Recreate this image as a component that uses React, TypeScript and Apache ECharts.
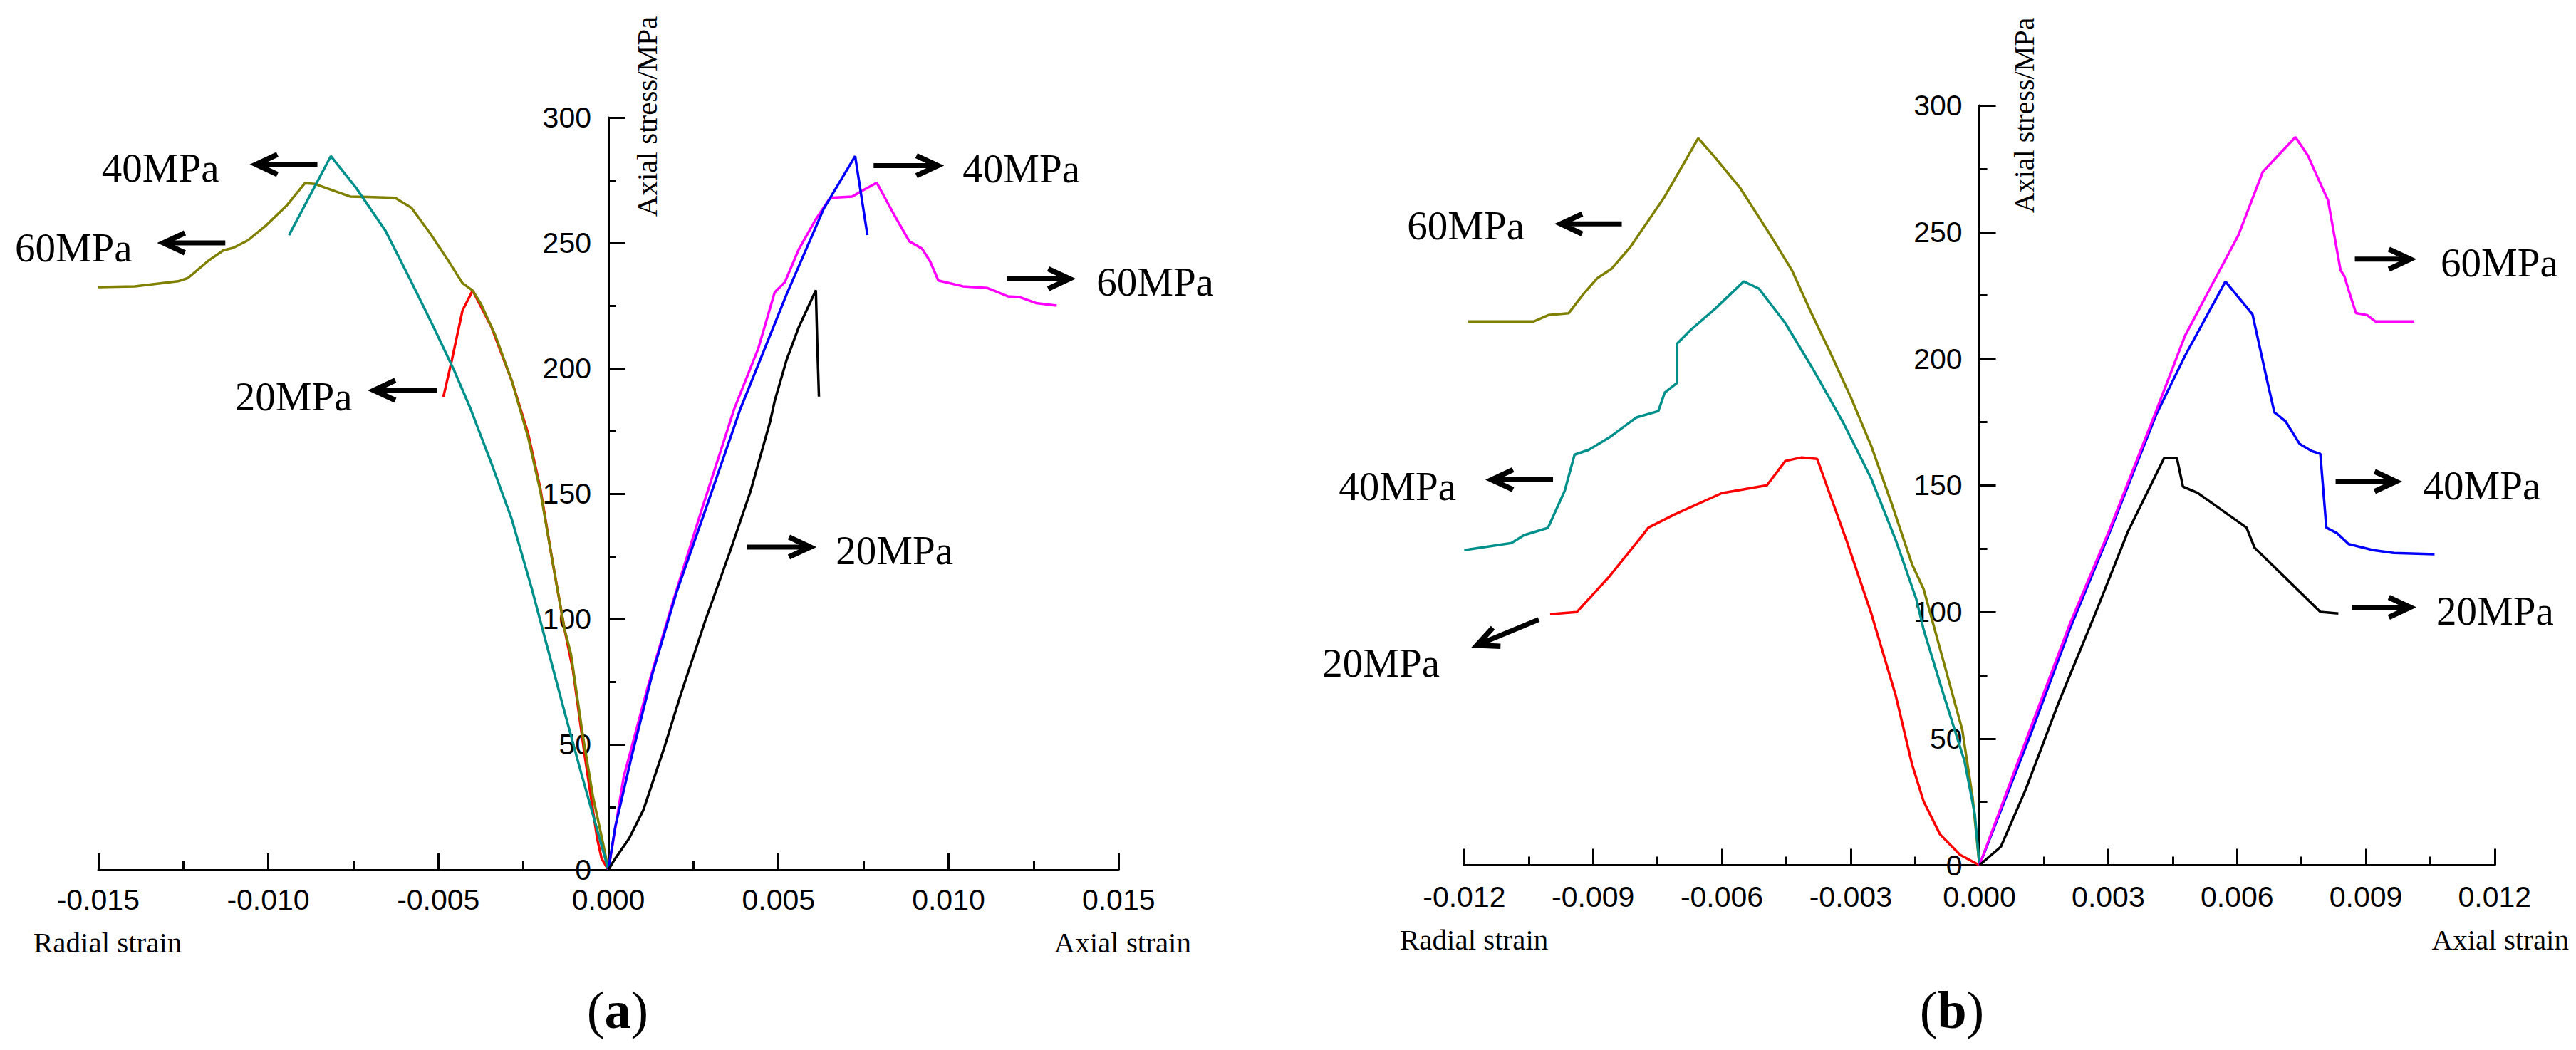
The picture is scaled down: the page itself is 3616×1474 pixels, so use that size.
import React, { useEffect, useRef } from 'react';
import * as echarts from 'echarts';

type P = [number, number];

// ---------- Panel (a) data: [strain, axial stress MPa] ----------
const radialA60: P[] = [
  [-0.015, 232.4], [-0.01392, 232.7], [-0.01265, 234.7], [-0.01236, 236], [-0.01175, 243],
  [-0.01132, 247], [-0.01103, 248], [-0.0106, 251], [-0.01006, 257], [-0.00945, 265],
  [-0.00892, 273.8], [-0.00862, 273.5], [-0.00832, 272], [-0.00801, 270.5], [-0.00759, 268.5],
  [-0.00627, 268], [-0.00579, 264], [-0.00525, 254], [-0.00471, 243], [-0.00429, 234],
  [-0.00399, 231], [-0.00374, 225.5], [-0.00332, 213], [-0.00284, 195], [-0.00236, 172.5],
  [-0.002, 151], [-0.00165, 123.5], [-0.00129, 96], [-0.0011, 86], [-0.00075, 53.4],
  [-0.00045, 29], [-0.00014, 9.4], [0, 0],
];
const radialA40: P[] = [
  [-0.00939, 253.1], [-0.00816, 284.6], [-0.00742, 272], [-0.00656, 255], [-0.00585, 236],
  [-0.00514, 216.5], [-0.00453, 199], [-0.00405, 183.8], [-0.00369, 171], [-0.00345, 162.5],
  [-0.00284, 139.8], [-0.00225, 112], [-0.00177, 87.5], [-0.00129, 63], [-0.0008, 38.6],
  [-0.00033, 16], [0, 0],
];
const radialA20: P[] = [
  [-0.00485, 188.6], [-0.0046, 203.4], [-0.00429, 223], [-0.00399, 231], [-0.00344, 216.5],
  [-0.00284, 195], [-0.00236, 174], [-0.002, 152], [-0.00165, 123.5], [-0.00129, 96],
  [-0.00104, 79.5], [-0.00069, 45], [-0.00033, 12.5], [-0.0002, 4.5], [0, 0],
];
const axialA40: P[] = [
  [0, 0], [0.0002, 17], [0.00068, 45], [0.00129, 78], [0.002, 110.5], [0.00284, 143],
  [0.00388, 183.8], [0.00417, 193.5], [0.00524, 229.5], [0.00633, 263.6], [0.007255, 284.6],
  [0.007615, 253.1],
];
const axialA60: P[] = [
  [0, 0], [0.00045, 37], [0.00116, 73], [0.0019, 107], [0.00273, 143], [0.0037, 183.8],
  [0.00441, 208], [0.00489, 230.3], [0.00519, 234.4], [0.0056, 247.5], [0.00608, 259],
  [0.00652, 268], [0.00717, 268.5], [0.00753, 271.3], [0.00789, 274], [0.00837, 262],
  [0.00885, 250.6], [0.00922, 247.7], [0.00946, 242.6], [0.0097, 235], [0.01042, 232.7],
  [0.01114, 232], [0.01144, 230.4], [0.01174, 228.7], [0.01209, 228.4], [0.01257, 226],
  [0.01318, 225],
];
const axialA20: P[] = [
  [0, 0], [0.0002, 4.5], [0.00061, 12.5], [0.00103, 23.9], [0.00164, 48.6], [0.00212, 69.6],
  [0.00284, 99], [0.00357, 126.7], [0.00418, 151], [0.00476, 179], [0.00489, 187],
  [0.00524, 203.4], [0.0056, 216.5], [0.0061, 231.1], [0.00614, 210], [0.00619, 188.7],
];

// ---------- Panel (b) data ----------
const radialB60: P[] = [
  [-0.01191, 214.7], [-0.01038, 214.7], [-0.01004, 217.2], [-0.00957, 217.9], [-0.00923, 225.4],
  [-0.0089, 231.8], [-0.00857, 235.5], [-0.00814, 243.9], [-0.00733, 264], [-0.00655, 287],
  [-0.00615, 279.3], [-0.00557, 267.3], [-0.0049, 249.6], [-0.00437, 235], [-0.00394, 218.9],
  [-0.00348, 202.6], [-0.003, 184.9], [-0.00252, 165.5], [-0.00205, 143], [-0.00157, 118.8],
  [-0.0013, 109], [-0.00083, 80], [-0.0004, 53.4], [-0.00016, 26.8], [0, 0],
];
const radialB40: P[] = [
  [-0.012, 124.4], [-0.0109, 127.2], [-0.01061, 130.3], [-0.01005, 133.2], [-0.00966, 147.8],
  [-0.00943, 162.1], [-0.0091, 164], [-0.00862, 168.9], [-0.00799, 176.8], [-0.00748, 179.3],
  [-0.00733, 186.6], [-0.00704, 190.5], [-0.00704, 206], [-0.00671, 211.6], [-0.00615, 219.8],
  [-0.00549, 230.5], [-0.00514, 227.7], [-0.00452, 214], [-0.00386, 195.4], [-0.00319, 175.3],
  [-0.00252, 152.6], [-0.00195, 128.4], [-0.00147, 105], [-0.0013, 93], [-0.00083, 67],
  [-0.00035, 41.2], [-0.00011, 20.4], [0, 0],
];
const radialB20: P[] = [
  [-0.01, 99.1], [-0.00938, 99.9], [-0.00862, 114], [-0.00786, 130], [-0.00771, 133.3],
  [-0.0071, 138.5], [-0.006, 146.9], [-0.00495, 150], [-0.00452, 159.6], [-0.00414, 161],
  [-0.00378, 160.4], [-0.0031, 128.4], [-0.00252, 99.4], [-0.00195, 67], [-0.00157, 39.8],
  [-0.0013, 25.2], [-0.00092, 12.2], [-0.00045, 4.1], [0, 0],
];
const axialB60: P[] = [
  [0, 0], [0.00055, 25], [0.0011, 50], [0.0021, 95], [0.00302, 132], [0.00413, 180],
  [0.00479, 209.1], [0.00537, 227.7], [0.00603, 248.7], [0.0066, 273.8], [0.00736, 287.5],
  [0.00765, 280.2], [0.00799, 267.3], [0.00812, 262.5], [0.00841, 235], [0.0085, 232.6],
  [0.0086, 227], [0.00877, 218], [0.00903, 217.2], [0.00922, 214.7], [0.01013, 214.7],
];
const axialB40: P[] = [
  [0, 0], [0.0006, 26], [0.0012, 52], [0.0021, 93], [0.003, 130], [0.00412, 178],
  [0.00479, 201.2], [0.00573, 230.5], [0.00636, 217.5], [0.0067, 191.4], [0.00687, 178.8],
  [0.00713, 175.3], [0.00746, 166.3], [0.00774, 163.5], [0.00794, 162.4], [0.00808, 133.3],
  [0.00832, 131.2], [0.0086, 126.8], [0.00917, 124.4], [0.00965, 123.3], [0.0106, 122.8],
];
const axialB20: P[] = [
  [0, 0], [0.0005, 7.3], [0.00108, 30], [0.00184, 64], [0.0027, 99.4], [0.00346, 131.8],
  [0.0043, 160.7], [0.0046, 160.7], [0.00474, 149.5], [0.00508, 147], [0.00622, 133.3],
  [0.00641, 125.3], [0.00794, 100], [0.00836, 99.4],
];

// ---------- Annotation arrows (data coordinates): shaft start, tip, label anchor ----------
type Arrow = { from: P; tip: P; label: P; text: string; align: 'left' | 'right' };
const arrowsA: Arrow[] = [
  { from: [-0.008555, 281.3], tip: [-0.010544, 281.3], label: [-0.011445, 281.3], text: '40MPa', align: 'right' },
  { from: [-0.011262, 250], tip: [-0.013266, 250], label: [-0.013999, 249.5], text: '60MPa', align: 'right' },
  { from: [-0.005038, 191.2], tip: [-0.007079, 191.2], label: [-0.007529, 190.3], text: '20MPa', align: 'right' },
  { from: [0.007797, 280.8], tip: [0.009870, 280.8], label: [0.010415, 281], text: '40MPa', align: 'left' },
  { from: [0.011713, 235.7], tip: [0.013744, 235.7], label: [0.014351, 235.8], text: '60MPa', align: 'left' },
  { from: [0.00407, 128.7], tip: [0.006122, 128.7], label: [0.006688, 128.7], text: '20MPa', align: 'left' },
];
const arrowsB: Arrow[] = [
  { from: [-0.008331, 253.2], tip: [-0.009899, 253.2], label: [-0.010597, 253.9], text: '60MPa', align: 'right' },
  { from: [-0.009932, 152.2], tip: [-0.011509, 152.2], label: [-0.012189, 151], text: '40MPa', align: 'right' },
  { from: [-0.010264, 97.0], tip: [-0.01184, 85.9], label: [-0.012571, 81.4], text: '20MPa', align: 'right' },
  { from: [0.008744, 239.3], tip: [0.010181, 239.3], label: [0.010743, 239.5], text: '60MPa', align: 'left' },
  { from: [0.008296, 151.5], tip: [0.009849, 151.5], label: [0.010336, 151.4], text: '40MPa', align: 'left' },
  { from: [0.008678, 101.8], tip: [0.010181, 101.8], label: [0.010643, 101.9], text: '20MPa', align: 'left' },
];

const X_A = { min: -0.015, max: 0.015, interval: 0.005 };
const X_B = { min: -0.012, max: 0.012, interval: 0.003 };
const Y_RANGE = { min: 0, max: 300, interval: 50 };

const OLIVE = '#808000';
const TEAL = '#00908c';
const RED = '#ff0000';
const BLUE = '#0000ff';
const MAGENTA = '#ff00ff';
const BLACK = '#000000';

const SERIF = '"Liberation Serif", "Times New Roman", serif';
const SANS = '"Liberation Sans", Arial, sans-serif';

const GRID_A = { left: 137.8, top: 165, width: 1432.4, height: 1056 };
const GRID_B = { left: 2055.4, top: 148, width: 1446.4, height: 1066.5 };

function line(data: P[], color: string, grid: number) {
  return {
    type: 'line',
    xAxisIndex: grid,
    yAxisIndex: grid,
    data,
    showSymbol: false,
    symbol: 'none',
    smooth: false,
    lineStyle: { color, width: 3.5 },
    itemStyle: { color },
    emphasis: { disabled: true },
    silent: true,
  };
}

function xAxis(grid: number, r: { min: number; max: number; interval: number }, margin: number) {
  return {
    type: 'value',
    gridIndex: grid,
    min: r.min,
    max: r.max,
    interval: r.interval,
    axisLine: { onZero: false, lineStyle: { color: '#000', width: 3 } },
    axisTick: { inside: true, length: 23, lineStyle: { color: '#000', width: 3 } },
    minorTick: { show: true, splitNumber: 2, length: 12, lineStyle: { color: '#000', width: 3 } },
    axisLabel: {
      margin,
      fontSize: 41,
      fontFamily: SANS,
      color: '#000',
      formatter: (v: number) => v.toFixed(3),
    },
    splitLine: { show: false },
    minorSplitLine: { show: false },
  };
}

function yAxis(grid: number, gridWidth: number, xr: { min: number; max: number }) {
  // shift the whole axis (line, ticks, labels) to x = 0 of the strain axis
  const offset = -gridWidth * (0 - xr.min) / (xr.max - xr.min);
  return {
    type: 'value',
    gridIndex: grid,
    min: Y_RANGE.min,
    max: Y_RANGE.max,
    interval: Y_RANGE.interval,
    position: 'left',
    offset,
    axisLine: { show: true, onZero: false, lineStyle: { color: '#000', width: 3 } },
    axisTick: { show: true, inside: true, length: 23, lineStyle: { color: '#000', width: 3 } },
    minorTick: { show: true, splitNumber: 2, length: 11, lineStyle: { color: '#000', width: 3 } },
    axisLabel: { margin: 24, fontSize: 41, fontFamily: SANS, color: '#000' },
    splitLine: { show: false },
    minorSplitLine: { show: false },
  };
}

function txt(text: string, x: number, y: number, align: string, size: number, rotation = 0) {
  return {
    type: 'text',
    x,
    y,
    rotation,
    silent: true,
    style: {
      text,
      fontSize: size,
      fontFamily: SERIF,
      fill: '#000',
      align,
      verticalAlign: 'middle',
    },
  };
}

function panelLetter(letter: string, x: number, y: number) {
  return {
    type: 'text',
    x,
    y,
    silent: true,
    style: {
      text: `{p|(}{b|${letter}}{p|)}`,
      align: 'center',
      verticalAlign: 'middle',
      fill: '#000',
      rich: {
        p: { fontSize: 74, fontFamily: SERIF, fill: '#000' },
        b: { fontSize: 74, fontFamily: SERIF, fontWeight: 'bold', fill: '#000' },
      },
    },
  };
}

const option = {
  animation: false,
  backgroundColor: '#ffffff',
  grid: [
    { ...GRID_A, outerBoundsMode: 'none', containLabel: false },
    { ...GRID_B, outerBoundsMode: 'none', containLabel: false },
  ],
  xAxis: [xAxis(0, X_A, 21), xAxis(1, X_B, 24)],
  yAxis: [yAxis(0, GRID_A.width, X_A), yAxis(1, GRID_B.width, X_B)],
  series: [
    line(radialA20, RED, 0),
    line(radialA60, OLIVE, 0),
    line(radialA40, TEAL, 0),
    line(axialA60, MAGENTA, 0),
    line(axialA40, BLUE, 0),
    line(axialA20, BLACK, 0),
    line(radialB60, OLIVE, 1),
    line(radialB40, TEAL, 1),
    line(radialB20, RED, 1),
    line(axialB40, BLUE, 1),
    line(axialB60, MAGENTA, 1),
    line(axialB20, BLACK, 1),
  ],
};

const staticGraphics = [
  txt('Axial stress/MPa', 907.5, 163.5, 'center', 41, Math.PI / 2),
  txt('Radial strain', 47, 1323, 'left', 41),
  txt('Axial strain', 1672, 1323, 'right', 41),
  panelLetter('a', 867, 1418),
  txt('Axial stress/MPa', 2841, 162, 'center', 40, Math.PI / 2),
  txt('Radial strain', 1965, 1319, 'left', 41),
  txt('Axial strain', 3606, 1319, 'right', 41),
  panelLetter('b', 2740, 1418),
];

function arrowGraphics(chart: any, arrows: Arrow[], gridIndex: number) {
  const els: any[] = [];
  const L = 30; // head length
  const HH = 14; // head half-height
  const W = 7.5; // stroke width of the head
  const shift = W / (2 * Math.sin(Math.atan2(HH, L)));
  for (const a of arrows) {
    const f = chart.convertToPixel({ gridIndex }, a.from) as number[];
    const t = chart.convertToPixel({ gridIndex }, a.tip) as number[];
    const l = chart.convertToPixel({ gridIndex }, a.label) as number[];
    const dx = t[0] - f[0];
    const dy = t[1] - f[1];
    const len = Math.hypot(dx, dy) || 1;
    const ux = dx / len;
    const uy = dy / len;
    const nx = -uy;
    const ny = ux;
    const tx = t[0] - ux * shift;
    const ty = t[1] - uy * shift;
    els.push({
      type: 'line',
      silent: true,
      shape: { x1: f[0], y1: f[1], x2: tx - ux * 3, y2: ty - uy * 3 },
      style: { stroke: '#000', lineWidth: 7, lineCap: 'butt' },
    });
    els.push({
      type: 'polyline',
      silent: true,
      shape: {
        points: [
          [tx - ux * L + nx * HH, ty - uy * L + ny * HH],
          [tx, ty],
          [tx - ux * L - nx * HH, ty - uy * L - ny * HH],
        ],
      },
      style: { stroke: '#000', lineWidth: W, fill: 'none', lineJoin: 'miter', miterLimit: 10, lineCap: 'butt' },
    });
    els.push({
      type: 'text',
      silent: true,
      x: l[0],
      y: l[1] + 5,
      style: {
        text: a.text,
        fontSize: 57,
        fontFamily: SERIF,
        fill: '#000',
        align: a.align,
        verticalAlign: 'middle',
      },
    });
  }
  return els;
}

export default function App() {
  const ref = useRef<HTMLDivElement>(null);
  useEffect(() => {
    document.body.style.margin = '0';
    document.body.style.overflow = 'hidden';
    const chart = echarts.init(ref.current as HTMLDivElement, null, { renderer: 'svg' });
    chart.setOption(option as any);
    const graphics = [
      ...staticGraphics,
      ...arrowGraphics(chart, arrowsA, 0),
      ...arrowGraphics(chart, arrowsB, 1),
    ];
    chart.setOption({ graphic: graphics } as any);
    return () => {
      chart.dispose();
    };
  }, []);
  return <div ref={ref} style={{ width: 3616, height: 1474, background: '#fff' }} />;
}
